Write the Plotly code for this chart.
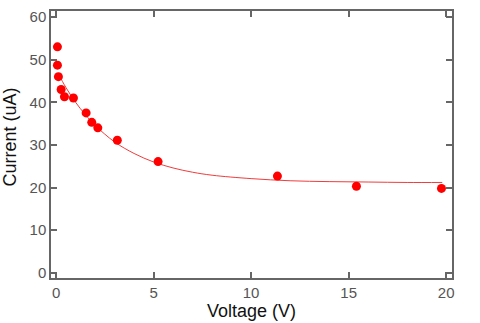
import plotly.graph_objects as go

voltage = [0.07, 0.07, 0.12, 0.26, 0.43, 0.89, 1.54, 1.83, 2.14, 3.14, 5.23, 11.35, 15.4, 19.76]
current = [53.0, 48.7, 46.0, 43.0, 41.3, 41.0, 37.5, 35.3, 34.0, 31.1, 26.1, 22.7, 20.3, 19.8]

fit_v = [0.1, 0.5, 1, 1.5, 2, 3, 4, 5, 6, 7, 8, 10, 12, 14, 16, 18, 19.8]
fit_i = [46.8, 43.5, 40.0, 37.1, 34.6, 30.7, 28.0, 26.0, 24.6, 23.6, 22.9, 22.1, 21.6, 21.4, 21.3, 21.2, 21.2]

x_ticks = [0, 5, 10, 15, 20]
y_ticks = [0, 10, 20, 30, 40, 50, 60]

font_family = "Liberation Sans, Arial"

fig = go.Figure()
fig.add_trace(go.Scatter(x=fit_v, y=fit_i, mode="lines", line=dict(color="#f03c3c", width=1, shape="spline"),
                         hoverinfo="skip"))
fig.add_trace(go.Scatter(x=voltage, y=current, mode="markers", marker=dict(color="#ff0000", size=9)))

axis_common = dict(showline=True, linecolor="#666666", linewidth=1.5, mirror="ticks", ticks="inside",
                   ticklen=6, tickwidth=1.5, tickcolor="#666666", showgrid=False, zeroline=False,
                   tickfont=dict(family=font_family, size=15, color="#555555"))
fig.update_layout(
    width=480, height=323, margin=dict(l=51, r=28, t=8, b=45),
    paper_bgcolor="white", plot_bgcolor="white", showlegend=False,
    xaxis=dict(range=[-0.26, 20.3], tickvals=x_ticks,
               title=dict(text="Voltage (V)", font=dict(family=font_family, size=18, color="#111111"), standoff=2),
               **axis_common),
    yaxis=dict(range=[-1.2, 61.4], tickvals=y_ticks, **axis_common),
    annotations=[dict(text="Current (uA)", xref="paper", yref="paper", x=(10 - 51) / 401, xanchor="center",
                      y=(323 - 45 - 136) / 270, yanchor="middle", textangle=-90, showarrow=False,
                      font=dict(family=font_family, size=18, color="#111111"))],
)
fig.write_html("out.html")
